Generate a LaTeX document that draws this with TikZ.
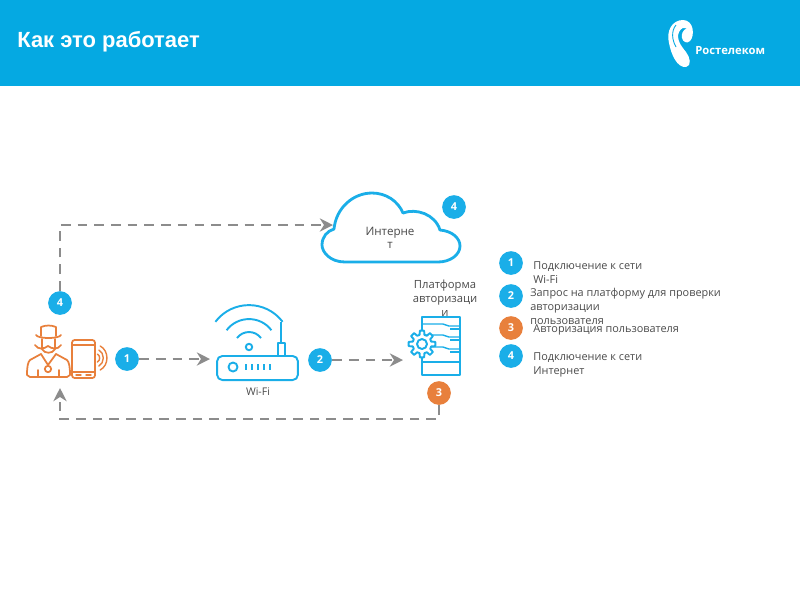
\documentclass[tikz,border=0pt]{standalone}
\usepackage{fontspec}
\setmainfont{Open Sans}
\newfontfamily\titlefont{Liberation Sans}
\usepackage{xcolor}
\usetikzlibrary{arrows.meta}
\definecolor{headblue}{HTML}{05A9E2}
\definecolor{iconblue}{HTML}{1AAEE8}
\definecolor{iconorange}{HTML}{E8803C}
\definecolor{flowgray}{HTML}{8C8C8C}
\definecolor{textgray}{HTML}{4A4A4A}
\tikzset{
    badge/.style={circle, fill=iconblue, text=white, minimum size=13.5pt, inner sep=0pt, font=\fontsize{6.2}{7}\selectfont\bfseries},
    orangebadge/.style={badge, fill=iconorange},
    flow/.style={draw=flowgray, line width=1.5pt, dash pattern=on 5.5pt off 4pt},
    icon/.style={draw=iconblue, line width=1.1pt, line join=round},
    man/.style={draw=iconorange, line width=1pt, line join=round, line cap=round},
    legend/.style={anchor=north west, align=left, inner sep=0pt, text=textgray, font=\fontsize{6.2}{8}\selectfont},
}
\begin{document}
\begin{tikzpicture}[x=0.02cm, y=-0.02cm, >={Stealth[length=7.5pt, width=7.5pt, inset=2.4pt]}]
    \useasboundingbox (0,0) rectangle (800,600);
    % Header
    \fill[headblue] (0,0) rectangle (800,86);
    \node[anchor=west, inner sep=0pt, text=white, font=\titlefont\fontsize{12.5}{14}\selectfont\bfseries] (title) at (17,42) {Как это работает};
    % Logo
    \fill[white] (683,20) .. controls (672,20) and (666,31) .. (669,43) .. controls (671,54) and (677,68) .. (686,67)
        .. controls (692,66) and (690,57) .. (686,52) .. controls (681,46) and (676,39) .. (679,32)
        .. controls (681,28) and (684,27) .. (687,28) .. controls (683,30) and (681,34) .. (682,38)
        .. controls (683,42) and (687,44) .. (690,41) .. controls (695,36) and (694,20) .. (683,20) -- cycle;
    \draw[headblue, line width=0.5pt] (676,25) .. controls (671,31) and (672,40) .. (676,47);
    \node[anchor=west, inner sep=0pt, text=white, font=\fontsize{6.4}{8}\selectfont\bfseries] (logotext) at (695,51) {Ростелеком};

    % Cloud
    \draw[draw=iconblue, line width=1.6pt, fill=white, line join=round] (345,262)
        .. controls (330,262) and (322,252) .. (322,245) .. controls (322,237) and (327,231) .. (334,229)
        .. controls (336,208) and (353,193) .. (372,193) .. controls (386,193) and (398,201) .. (403,213)
        .. controls (416,208) and (435,214) .. (440,230) .. controls (452,231) and (460,238) .. (460,246)
        .. controls (460,255) and (450,262) .. (438,262) -- cycle;
    \node[inner sep=0pt, align=center, text=textgray, font=\fontsize{6.6}{7.4}\selectfont] (inet) at (390,238) {Интерне\\т};
    \coordinate (cloudin) at (333,225);

    % Man with phone
    \draw[man] (41,336) -- (41,327) .. controls (46,325) and (51,325) .. (56,327) -- (56,336);
    \draw[man] (36,335) .. controls (38,339) and (59,339) .. (61,335);
    \draw[man] (42,339) -- (42,349) .. controls (44,354) and (53,354) .. (55,349) -- (55,339);
    \draw[man] (35,345) .. controls (38,350) and (44,349) .. (48,346) .. controls (52,349) and (58,350) .. (61,345);
    \draw[man] (41,354) -- (30,360) .. controls (28,362) and (27,366) .. (27,375) -- (30,377) -- (67,377) -- (70,375)
        .. controls (70,366) and (69,362) .. (67,360) -- (56,354);
    \draw[man] (41,354) -- (48,365) -- (56,354);
    \draw[man] (38,370) -- (38,377) (59,370) -- (59,377);
    \draw[man] (48,369) circle (3.2);
    \draw[man, rounded corners=1.5] (72,340) rectangle (95,378);
    \draw[man, line width=0.8pt] (72,345) -- (95,345) (72,372) -- (95,372) (76,375) -- (81,375) (86,375) -- (91,375);
    \foreach \r in {4,8,12} {
        \draw[man, line width=0.8pt] (96+\r*0.35,358-\r) .. controls (96+\r*1.1,358-\r*0.6) and (96+\r*1.1,358+\r*0.6) .. (96+\r*0.35,358+\r);
    }
    \coordinate (manin) at (60,388);
    \coordinate (corner) at (60,419);

    % Router
    \foreach \r in {15,28,42} {
        \draw[icon] (249-\r*0.8,347-\r*0.6) .. controls (249-\r*0.4,347-\r*1.13) and (249+\r*0.4,347-\r*1.13) .. (249+\r*0.8,347-\r*0.6);
    }
    \draw[icon] (249,347) circle (3.2);
    \draw[icon] (281,322) -- (281,343);
    \draw[icon] (278,343) rectangle (285,356);
    \node[icon, rounded corners=3pt, minimum width=46pt, minimum height=13.7pt, inner sep=0pt, outer sep=0pt] (router) at (257.5,368) {};
    \draw[icon] (233,367) circle (4.5);
    \foreach \x in {246,252,258,264,270} {
        \draw[icon, line width=1.4pt] (\x,364) -- (\x,370);
    }
    \node[inner sep=0pt, text=textgray, font=\fontsize{6}{8}\selectfont] (wifi) at (258,392) {Wi-Fi};
    \coordinate (routerin) at (210,359);

    % Platform
    \node[inner sep=0pt, align=center, text=textgray, font=\fontsize{6.4}{8}\selectfont] (platformname) at (445,298) {Платформа\\авторизаци\\и};
    \node[icon, minimum width=21.6pt, minimum height=33pt, inner sep=0pt, outer sep=0pt] (server) at (441,346) {};
    \foreach \y in {324,335,347} {
        \draw[icon, line width=0.8pt] (422,\y) -- (443,\y) -- (449,\y+2) -- (460,\y+2);
        \draw[icon, line width=0.8pt] (450,\y+5) -- (460,\y+5);
    }
    \draw[icon] (422,362) -- (460,362);
    \begin{scope}[shift={(422,344)}]
        \draw[icon, fill=white] (-15:9.5) \foreach \a in {0,45,...,315} { -- (\a-15:9.5) -- (\a-9:13.5) -- (\a+9:13.5) -- (\a+15:9.5) } -- cycle;
        \draw[icon] (0,0) circle (5);
    \end{scope}
    \coordinate (serverin) at (403,360);

    % Badges on the scheme
    \node[badge] (bfour) at (60,303) {4};
    \node[badge] (bone) at (127,359) {1};
    \node[badge] (btwo) at (320,360) {2};
    \node[orangebadge] (bthree) at (439,393) {3};
    \node[badge] (bcloud) at (454,207) {4};

    % Flows
    \draw[flow, ->] (bfour.north) |- (cloudin);
    \draw[flow, ->] (bone) -- (routerin);
    \draw[flow, ->] (btwo) -- (serverin);
    \draw[flow, ->] (bthree.south) |- (corner) -- (manin);

    % Legend
    \node[badge] (lone) at (511,263) {1};
    \node[badge] (ltwo) at (511,296) {2};
    \node[orangebadge] (lthree) at (511,328) {3};
    \node[badge] (lfour) at (511,356) {4};
    \node[legend] (tone) at (533,261) {Подключение к сети\\Wi-Fi};
    \node[legend] (ttwo) at (530,288) {Запрос на платформу для проверки\\авторизации\\пользователя};
    \node[legend] (tthree) at (533,324.5) {Авторизация пользователя};
    \node[legend] (tfour) at (533,352.5) {Подключение к сети\\Интернет};
\end{tikzpicture}
\end{document}
